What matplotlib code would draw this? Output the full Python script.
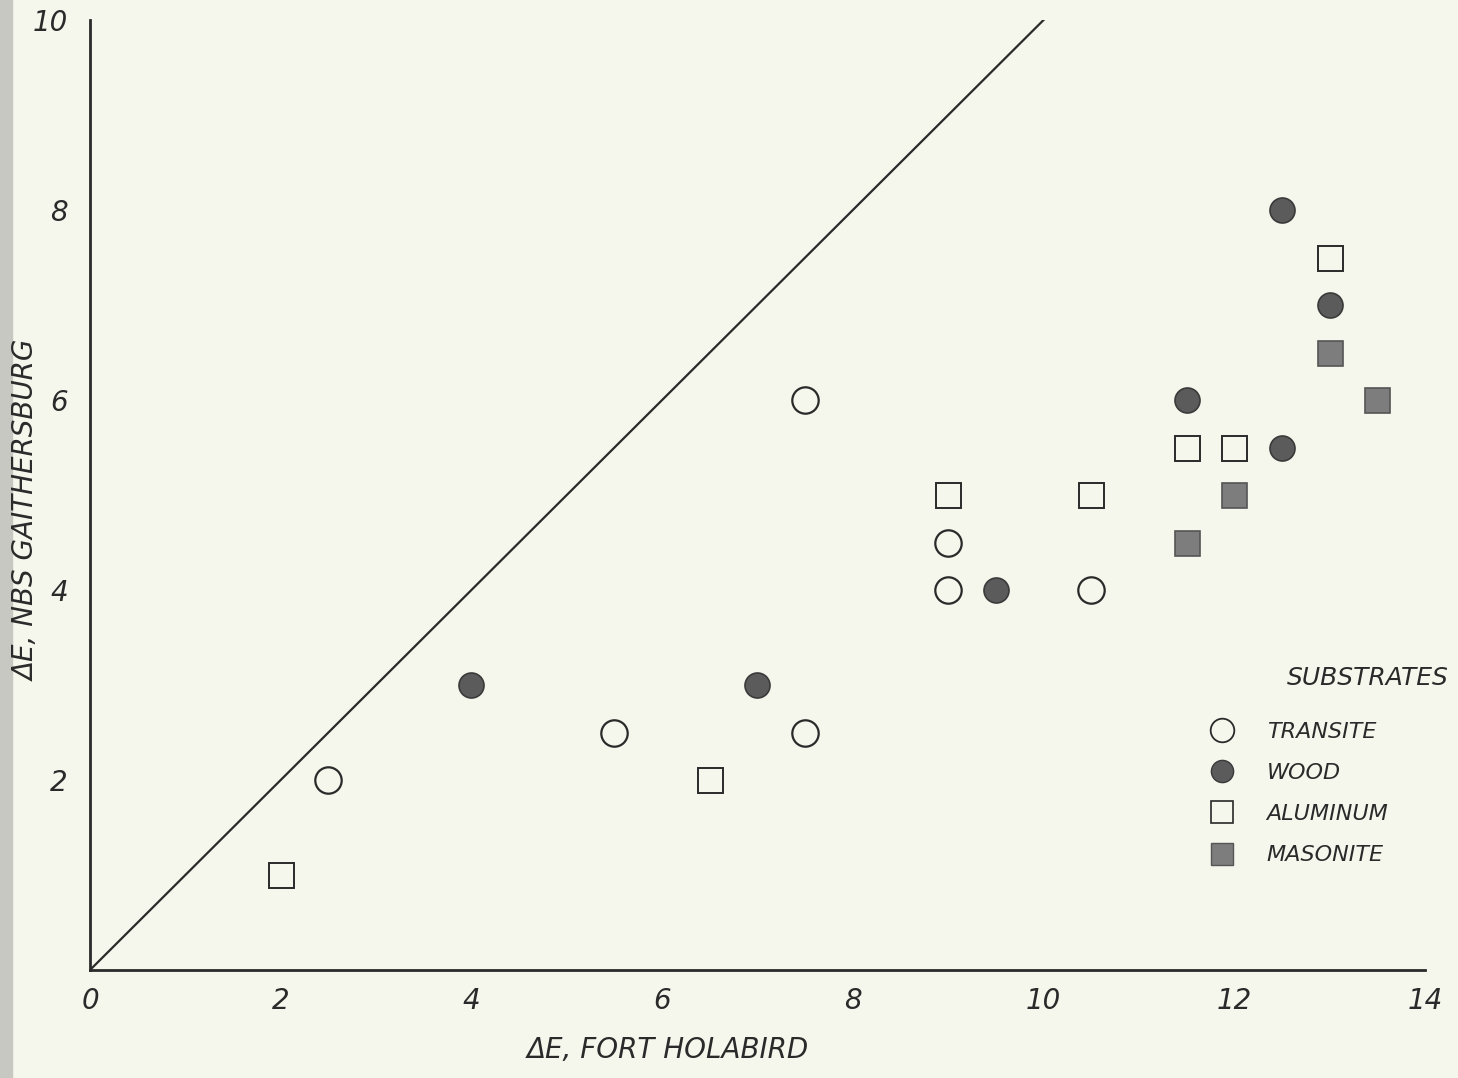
import matplotlib
matplotlib.use("Agg")
import matplotlib.pyplot as plt
from matplotlib.lines import Line2D
from matplotlib.patches import Rectangle

# Data (ΔE Fort Holabird, ΔE NBS Gaithersburg)
transite_x = [2.5, 5.5, 7.5, 7.5, 9.0, 9.0, 10.5]
transite_y = [2.0, 2.5, 6.0, 2.5, 4.5, 4.0, 4.0]
wood_x = [4.0, 7.0, 9.5, 11.5, 12.5, 13.0, 12.5]
wood_y = [3.0, 3.0, 4.0, 6.0, 8.0, 7.0, 5.5]
aluminum_x = [2.0, 6.5, 9.0, 10.5, 11.5, 12.0, 13.0]
aluminum_y = [1.0, 2.0, 5.0, 5.0, 5.5, 5.5, 7.5]
masonite_x = [11.5, 12.0, 13.0, 13.5]
masonite_y = [4.5, 5.0, 6.5, 6.0]
line_x = [0, 10]
line_y = [0, 10]
x_ticks = [0, 2, 4, 6, 8, 10, 12, 14]
y_ticks = [2, 4, 6, 8, 10]
legend_labels = ["TRANSITE", "WOOD", "ALUMINUM", "MASONITE"]

bg = "#f5f6ec"
ink = "#2a2a2a"

fig = plt.figure(figsize=(14.58, 10.78), dpi=100, facecolor=bg)
ax = fig.add_axes([90/1458, 1 - 970/1078, 1335/1458, 950/1078])
ax.set_facecolor(bg)
fig.patches.append(Rectangle((0, 0), 12/1458, 1, transform=fig.transFigure,
                             color="#c8c8c2", zorder=-1))

ax.plot(line_x, line_y, color=ink, lw=1.6, zorder=1)

ms = 19
ax.plot(transite_x, transite_y, 'o', ms=ms, mfc=bg, mec=ink, mew=1.6, ls='none', zorder=3)
ax.plot(wood_x, wood_y, 'o', ms=ms - 1, mfc="#5b5b5b", mec="#3a3a3a", mew=1.2, ls='none', zorder=3)
ax.plot(aluminum_x, aluminum_y, 's', ms=ms - 1, mfc=bg, mec=ink, mew=1.4, ls='none', zorder=3)
ax.plot(masonite_x, masonite_y, 's', ms=ms - 1, mfc="#7d7d7d", mec="#555555", mew=1.2, ls='none', zorder=3)

ax.set_xlim(0, 14)
ax.set_ylim(0, 10)
for s in ["top", "right"]:
    ax.spines[s].set_visible(False)
for s in ["left", "bottom"]:
    ax.spines[s].set_color(ink)
    ax.spines[s].set_linewidth(2.0)

ax.set_xticks(x_ticks)
ax.set_xticklabels([str(t) for t in x_ticks])
ax.set_yticks(y_ticks)
ax.set_yticklabels([str(t) for t in y_ticks])
ax.tick_params(axis='x', length=0, labelsize=20, colors=ink, pad=12)
ax.tick_params(axis='y', length=0, labelsize=20, colors=ink, pad=16)
for lab in ax.get_xticklabels() + ax.get_yticklabels():
    lab.set_fontstyle('italic')

fig.text(668/1458, 1 - 1050/1078, "ΔE, FORT HOLABIRD", fontsize=20, style='italic',
         color=ink, ha='center', va='center')
fig.text(27/1458, 1 - 510/1078, "ΔE, NBS GAITHERSBURG", fontsize=20, style='italic',
         color=ink, ha='center', va='center', rotation=90)

handles = [
    Line2D([], [], marker='o', ls='none', ms=17, mfc=bg, mec=ink, mew=1.3),
    Line2D([], [], marker='o', ls='none', ms=16, mfc="#5b5b5b", mec="#3a3a3a", mew=1.0),
    Line2D([], [], marker='s', ls='none', ms=16, mfc=bg, mec=ink, mew=1.2),
    Line2D([], [], marker='s', ls='none', ms=16, mfc="#7d7d7d", mec="#555555", mew=1.0),
]
leg = ax.legend(handles, legend_labels, frameon=False, loc='upper left',
                bbox_to_anchor=(1180/1458, 1 - 702/1078), bbox_transform=fig.transFigure,
                fontsize=16, handletextpad=1.0, labelspacing=0.95)
for t in leg.get_texts():
    t.set_fontstyle('italic')
    t.set_color(ink)
fig.text(1368/1458, 1 - 678/1078, "SUBSTRATES", fontsize=18, style='italic',
         color=ink, ha='center', va='center')

fig.savefig("out.png", dpi=100, facecolor=bg)
